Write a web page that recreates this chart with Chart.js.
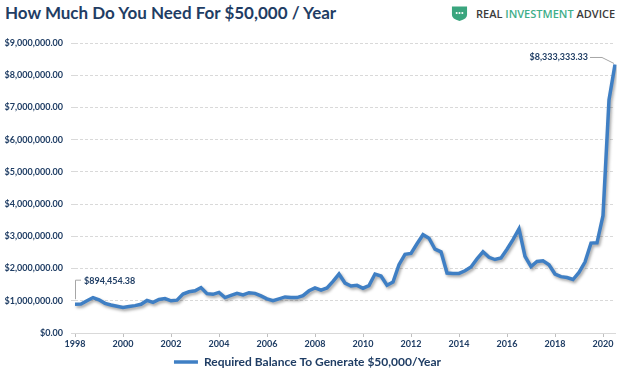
<!DOCTYPE html>
<html>
<head>
<meta charset="utf-8">
<script src="https://cdn.jsdelivr.net/npm/chart.js@4"></script>
<style>
  html, body { margin: 0; padding: 0; background: #fff; }
  #wrap { position: relative; width: 624px; height: 373px; }
  #title { position: absolute; left: 5px; top: 2px; font: bold 17px Lato, sans-serif; color: #1f3d64; white-space: nowrap; }
  #logo { position: absolute; left: 451px; top: 4px; height: 18px; display: flex; align-items: center; font: 600 11px "Open Sans", sans-serif; color: #3b3b3b; white-space: nowrap; }
  #logo svg { margin-right: 8px; }
  #logo .g { color: #3fae8a; }
  canvas { position: absolute; left: 0; top: 0; }
</style>
</head>
<body>
<div id="wrap">
  <div id="title">How Much Do You Need For $50,000 / Year</div>
  <div id="logo">
    <svg width="17" height="17" viewBox="0 0 18 17">
      <path d="M1 1 H17 V10 Q17 14 9 16.5 Q1 14 1 10 Z" fill="#3aa57e"/>
      <circle cx="6" cy="8" r="1.1" fill="#fff"/>
      <circle cx="9" cy="8" r="1.1" fill="#fff"/>
      <circle cx="12" cy="8" r="1.1" fill="#fff"/>
    </svg>
    <span>REAL&nbsp;<span class="g">INVESTMENT</span>&nbsp;ADVICE</span>
  </div>
  <canvas id="chart" width="624" height="373"></canvas>
</div>
<script>
// Quarterly data, 1998 Q1 - 2020 Q3
const years = [1998, 1999, 2000, 2001, 2002, 2003, 2004, 2005, 2006, 2007, 2008, 2009,
  2010, 2011, 2012, 2013, 2014, 2015, 2016, 2017, 2018, 2019, 2020];
const tickYears = ['1998', '2000', '2002', '2004', '2006', '2008', '2010', '2012', '2014', '2016', '2018', '2020'];

const balance = [
  894454.38, 900000, 1000000, 1100000, 1030000, 920000, 870000, 830000,
  790000, 820000, 850000, 890000, 1010000, 950000, 1040000, 1070000,
  1000000, 1020000, 1210000, 1280000, 1310000, 1410000, 1220000, 1200000,
  1260000, 1100000, 1170000, 1230000, 1180000, 1250000, 1230000, 1150000,
  1060000, 1000000, 1060000, 1120000, 1100000, 1100000, 1160000, 1310000,
  1400000, 1330000, 1400000, 1600000, 1830000, 1550000, 1460000, 1480000,
  1390000, 1470000, 1830000, 1770000, 1480000, 1580000, 2120000, 2440000,
  2470000, 2770000, 3050000, 2940000, 2600000, 2520000, 1860000, 1850000,
  1850000, 1930000, 2050000, 2300000, 2520000, 2350000, 2280000, 2330000,
  2600000, 2900000, 3230000, 2380000, 2060000, 2220000, 2240000, 2120000,
  1830000, 1750000, 1720000, 1660000, 1880000, 2200000, 2790000, 2800000,
  3640000, 7230000, 8333333.33
];

const quarters = years.flatMap(y => ['Q1', 'Q2', 'Q3', 'Q4'].map(q => y + ' ' + q)).slice(0, balance.length);

const navy = '#1f3d64';
const blue = '#3f7fc4';

function money(v) {
  return '$' + v.toLocaleString('en-US', { minimumFractionDigits: 2, maximumFractionDigits: 2 });
}

// soft shadow under the line
const lineShadow = {
  id: 'lineShadow',
  beforeDatasetDraw(chart) {
    const ctx = chart.ctx;
    ctx.save();
    ctx.shadowColor = 'rgba(0,0,0,0.35)';
    ctx.shadowBlur = 3;
    ctx.shadowOffsetX = 1.5;
    ctx.shadowOffsetY = 2;
  },
  afterDatasetDraw(chart) {
    chart.ctx.restore();
  }
};

// callouts for first and last values
const endLabels = {
  id: 'endLabels',
  afterDatasetsDraw(chart) {
    const ctx = chart.ctx;
    const pts = chart.getDatasetMeta(0).data;
    const first = pts[0];
    const last = pts[pts.length - 1];
    ctx.save();
    ctx.strokeStyle = '#a6a6a6';
    ctx.lineWidth = 1;
    ctx.beginPath();
    ctx.moveTo(first.x + 0.5, first.y - 5);
    ctx.lineTo(first.x + 0.5, first.y - 24);
    ctx.lineTo(first.x + 6, first.y - 24);
    ctx.moveTo(last.x - 1, last.y - 1);
    ctx.lineTo(last.x - 13, last.y - 7);
    ctx.lineTo(last.x - 25, last.y - 7);
    ctx.stroke();
    ctx.fillStyle = navy;
    ctx.font = 'bold 9px Lato';
    ctx.textBaseline = 'middle';
    ctx.textAlign = 'left';
    ctx.fillText(money(balance[0]), first.x + 9, first.y - 23);
    ctx.textAlign = 'right';
    ctx.fillText(money(balance[balance.length - 1]), last.x - 27, last.y - 7);
    ctx.restore();
  }
};

new Chart(document.getElementById('chart'), {
  type: 'line',
  data: {
    labels: quarters,
    datasets: [{
      label: 'Required Balance To Generate $50,000/Year',
      data: balance,
      borderColor: blue,
      backgroundColor: blue,
      borderWidth: 3.5,
      pointRadius: 0,
      tension: 0,
      fill: false
    }]
  },
  options: {
    responsive: false,
    animation: false,
    layout: { padding: { top: 43, right: 9, left: 0, bottom: -5 } },
    plugins: {
      tooltip: { enabled: false },
      legend: {
        position: 'bottom',
        labels: {
          color: navy,
          font: { family: 'Lato', size: 12, weight: 'bold' },
          usePointStyle: true,
          pointStyle: 'line',
          pointStyleWidth: 24,
          boxWidth: 24,
          padding: 3
        }
      }
    },
    scales: {
      x: {
        offset: false,
        grid: {
          drawOnChartArea: false,
          tickLength: 4,
          color: c => (c.index % 8 === 0 ? '#bfbfbf' : 'transparent')
        },
        border: { color: '#d9d9d9' },
        ticks: {
          autoSkip: false,
          maxRotation: 0,
          padding: 2,
          color: navy,
          font: { family: 'Lato', size: 9, weight: 'bold' },
          callback: (v, i) => (i % 8 === 0 ? tickYears[i / 8] : '')
        },
        afterFit: s => { s.height = 20; }
      },
      y: {
        min: 0,
        max: 9000000,
        ticks: {
          stepSize: 1000000,
          padding: 8,
          color: navy,
          font: { family: 'Lato', size: 9, weight: 'bold' },
          callback: v => money(v)
        },
        grid: { color: '#d9d9d9', tickLength: 4 },
        border: { display: false, dash: [3, 2] },
        afterFit: s => { s.width = 75; }
      }
    }
  },
  plugins: [lineShadow, endLabels]
});
</script>
</body>
</html>
